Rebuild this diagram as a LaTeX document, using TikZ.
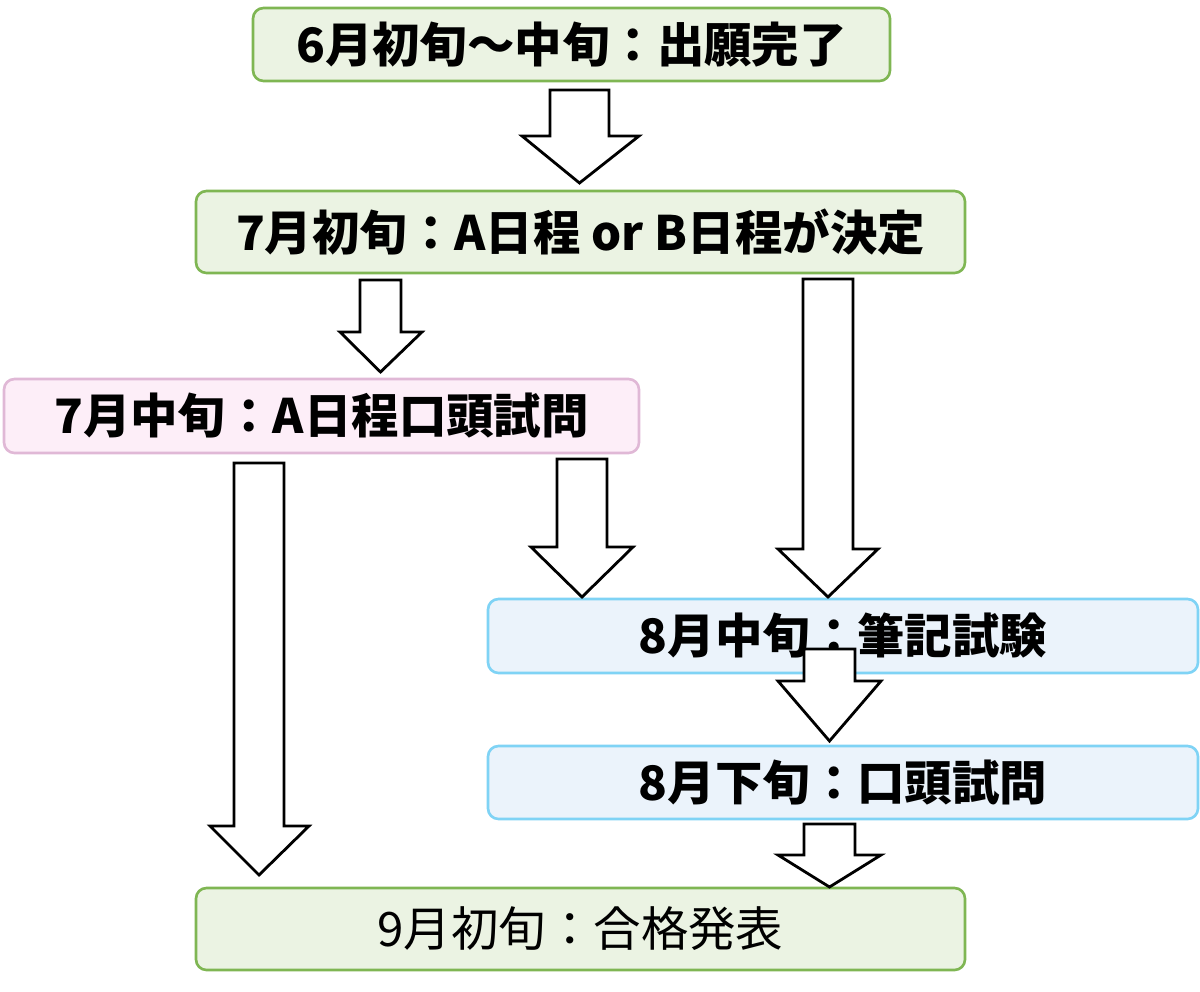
\documentclass[tikz,border=0pt]{standalone}
\usepackage{fontspec}
\setmainfont{Noto Sans CJK JP}
\definecolor{grfill}{HTML}{EBF3E3}
\definecolor{grline}{HTML}{7FB653}
\definecolor{pkfill}{HTML}{FDEEF8}
\definecolor{pkline}{HTML}{E0B8D6}
\definecolor{blfill}{HTML}{EBF3FB}
\definecolor{blline}{HTML}{7FD3F5}
\tikzset{
  stage/.style={draw, line width=1.5pt, rounded corners=6pt, inner sep=0pt,
    font=\fontsize{27}{30}\selectfont\bfseries},
  stgreen/.style={stage, draw=grline, fill=grfill},
  stpink/.style={stage, draw=pkline, fill=pkfill},
  stblue/.style={stage, draw=blline, fill=blfill},
  blk/.style={draw=black, line width=1.6pt, fill=white}
}
% block arrow: shaft x1,x2 ; top ; head base ; head x1,x2 ; tip y
\newcommand{\blockarrow}[7]{%
  \draw[blk] (#1,#3) -- (#2,#3) -- (#2,#4) -- (#6,#4) -- ({(#1+#2)/2},#7)
    -- (#5,#4) -- (#1,#4) -- cycle;}
\begin{document}
\begin{tikzpicture}[x=0.02cm,y=-0.02cm]
\useasboundingbox (0,0) rectangle (1200,991);

\node[stgreen, minimum width=637*0.02cm, minimum height=73*0.02cm] (start) at (571.5,44.5) {6月初旬〜中旬：出願完了};
\node[stgreen, minimum width=769*0.02cm, minimum height=82*0.02cm] (decide) at (580.5,232) {7月初旬：A日程 or B日程が決定};
\node[stpink, minimum width=635*0.02cm, minimum height=74*0.02cm] (oralA) at (321.5,416) {7月中旬：A日程口頭試問};
\node[stblue, minimum width=710*0.02cm, minimum height=74*0.02cm] (written) at (843,636) {8月中旬：筆記試験};
\node[stblue, minimum width=710*0.02cm, minimum height=73*0.02cm] (oralB) at (843,782.5) {8月下旬：口頭試問};
\node[stgreen, minimum width=769*0.02cm, minimum height=82*0.02cm, font=\fontsize{27}{30}\selectfont] (result) at (580.5,929) {9月初旬：合格発表};

%Pfeile
\blockarrow{550}{609}{90}{136}{522}{639}{183}
\blockarrow{360}{401}{280}{332}{340}{422}{372}
\blockarrow{803}{853}{279}{549}{778}{878}{597}
\blockarrow{557}{607}{459}{547}{531}{633}{597}
\blockarrow{234}{284}{463}{826}{210}{309}{875}
\blockarrow{804}{855}{649}{681}{778}{881}{741}
\blockarrow{804}{855}{824}{855}{778}{881}{887}

\end{tikzpicture}
\end{document}
